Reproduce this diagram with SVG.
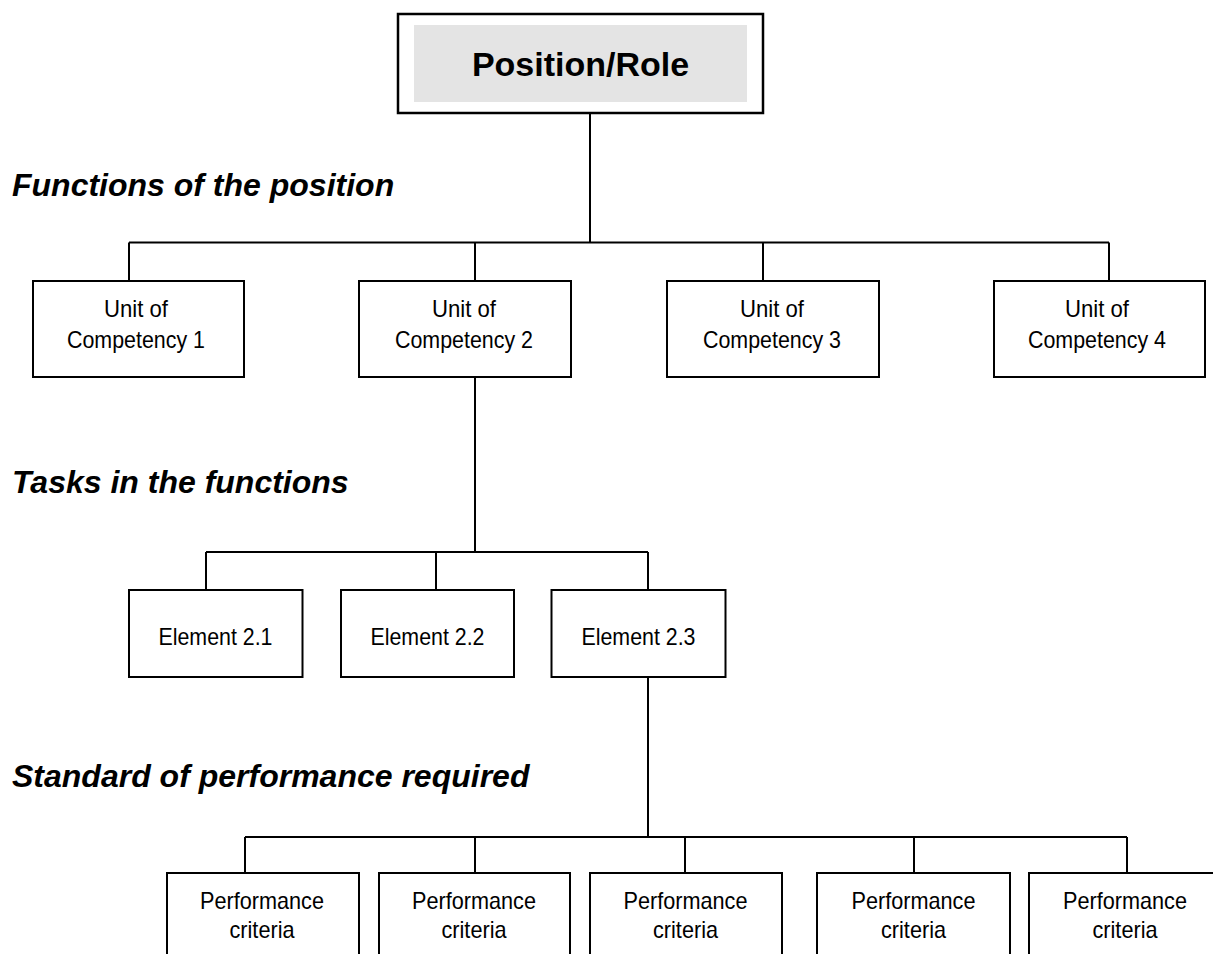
<svg xmlns="http://www.w3.org/2000/svg" width="1213" height="954" viewBox="0 0 1213 954">
<style>
.box{fill:#fff;stroke:#000;stroke-width:2}
.conn{fill:none;stroke:#000;stroke-width:2}
.t{font-family:"Liberation Sans",Arial,sans-serif;font-size:24px;text-anchor:middle;fill:#000}
.lbl{font-family:"Liberation Sans",Arial,sans-serif;font-size:32px;font-weight:bold;font-style:italic;fill:#000}
</style>
<rect width="1213" height="954" fill="#fff"/>
<g id="connectors">
<path class="conn" d="M590 113V242.5M129 242.5H1109M129 242.5V281M475 242.5V281M763 242.5V281M1109 242.5V281"/>
<path class="conn" d="M475 377V553M206 552H648M206 552V590M436 552V590M648 552V590"/>
<path class="conn" d="M648 677V837M245 837H1127M245 837V873M475 837V873M685 837V873M914 837V873M1127 837V873"/>
</g>
<g id="root">
<rect x="398" y="14" width="365" height="99" fill="#fff" stroke="#000" stroke-width="2.5"/>
<rect x="414" y="25" width="333" height="77" fill="#e4e4e4"/>
<text x="580.5" y="76" font-family="Liberation Sans,Arial,sans-serif" font-size="34" font-weight="bold" text-anchor="middle">Position/Role</text>
</g>
<g id="labels">
<text class="lbl" x="12" y="196">Functions of the position</text>
<text class="lbl" x="12" y="493">Tasks in the functions</text>
<text class="lbl" x="12" y="787">Standard of performance required</text>
</g>
<g id="unit1"><rect class="box" x="33" y="281" width="211" height="96"/><text class="t" x="136" y="317" textLength="64" lengthAdjust="spacingAndGlyphs">Unit of</text><text class="t" x="136" y="348" textLength="138" lengthAdjust="spacingAndGlyphs">Competency 1</text></g>
<g id="unit2"><rect class="box" x="359" y="281" width="212" height="96"/><text class="t" x="464" y="317" textLength="64" lengthAdjust="spacingAndGlyphs">Unit of</text><text class="t" x="464" y="348" textLength="138" lengthAdjust="spacingAndGlyphs">Competency 2</text></g>
<g id="unit3"><rect class="box" x="667" y="281" width="212" height="96"/><text class="t" x="772" y="317" textLength="64" lengthAdjust="spacingAndGlyphs">Unit of</text><text class="t" x="772" y="348" textLength="138" lengthAdjust="spacingAndGlyphs">Competency 3</text></g>
<g id="unit4"><rect class="box" x="994" y="281" width="211" height="96"/><text class="t" x="1097" y="317" textLength="64" lengthAdjust="spacingAndGlyphs">Unit of</text><text class="t" x="1097" y="348" textLength="138" lengthAdjust="spacingAndGlyphs">Competency 4</text></g>
<g id="el1"><rect class="box" x="129" y="590" width="173.5" height="87"/><text class="t" x="215.5" y="645" textLength="114" lengthAdjust="spacingAndGlyphs">Element 2.1</text></g>
<g id="el2"><rect class="box" x="341" y="590" width="173" height="87"/><text class="t" x="427.5" y="645" textLength="114" lengthAdjust="spacingAndGlyphs">Element 2.2</text></g>
<g id="el3"><rect class="box" x="551.5" y="590" width="174" height="87"/><text class="t" x="638.5" y="645" textLength="114" lengthAdjust="spacingAndGlyphs">Element 2.3</text></g>
<g id="pc1"><rect class="box" x="167" y="873" width="192" height="100"/><text class="t" x="262" y="909" textLength="124" lengthAdjust="spacingAndGlyphs">Performance</text><text class="t" x="262" y="938" textLength="65" lengthAdjust="spacingAndGlyphs">criteria</text></g>
<g id="pc2"><rect class="box" x="379" y="873" width="191" height="100"/><text class="t" x="474" y="909" textLength="124" lengthAdjust="spacingAndGlyphs">Performance</text><text class="t" x="474" y="938" textLength="65" lengthAdjust="spacingAndGlyphs">criteria</text></g>
<g id="pc3"><rect class="box" x="590" y="873" width="192" height="100"/><text class="t" x="685.5" y="909" textLength="124" lengthAdjust="spacingAndGlyphs">Performance</text><text class="t" x="685.5" y="938" textLength="65" lengthAdjust="spacingAndGlyphs">criteria</text></g>
<g id="pc4"><rect class="box" x="817" y="873" width="193" height="100"/><text class="t" x="913.5" y="909" textLength="124" lengthAdjust="spacingAndGlyphs">Performance</text><text class="t" x="913.5" y="938" textLength="65" lengthAdjust="spacingAndGlyphs">criteria</text></g>
<g id="pc5"><rect class="box" x="1029" y="873" width="192" height="100"/><text class="t" x="1125" y="909" textLength="124" lengthAdjust="spacingAndGlyphs">Performance</text><text class="t" x="1125" y="938" textLength="65" lengthAdjust="spacingAndGlyphs">criteria</text></g>
</svg>
